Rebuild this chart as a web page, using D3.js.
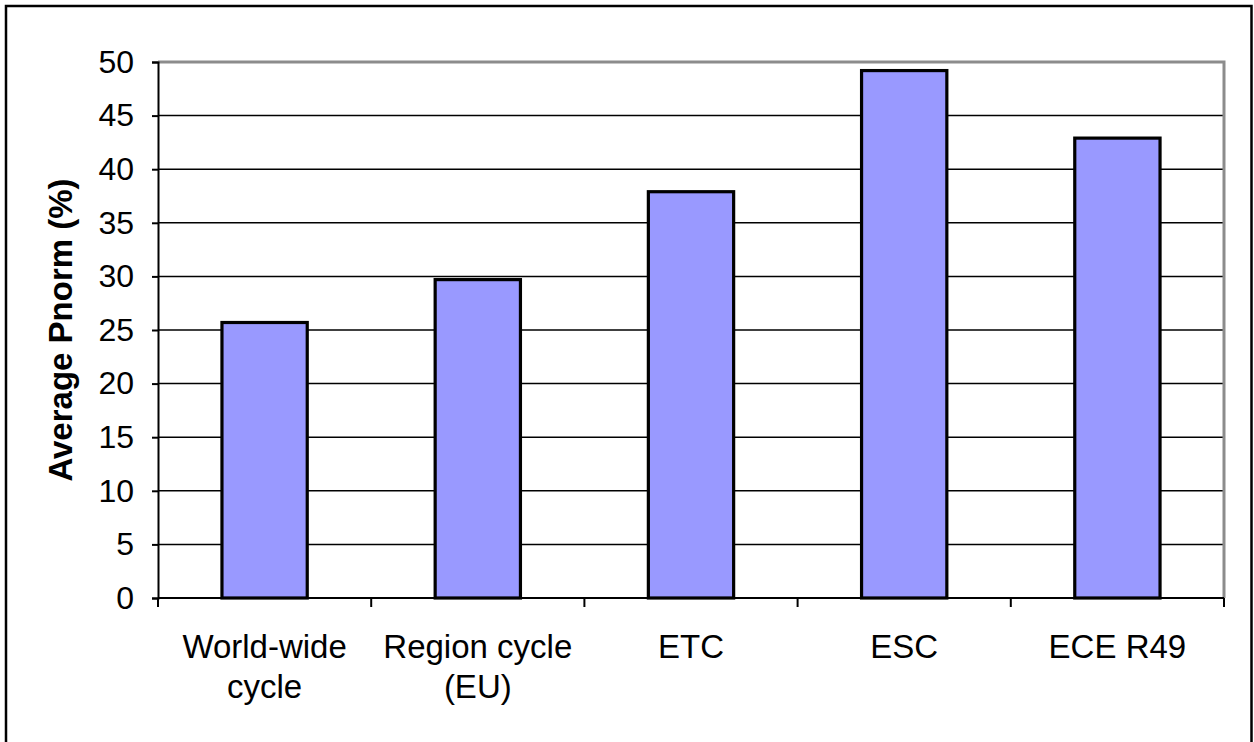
<!DOCTYPE html>
<html><head><meta charset="utf-8">
<script src="https://cdn.jsdelivr.net/npm/d3@7"></script>
<style>html,body{margin:0;padding:0;background:#fff;}svg{display:block;}</style>
</head><body>
<svg id="c" width="1254" height="742"></svg>
<script>
const categories = [["World-wide","cycle"],["Region cycle","(EU)"],["ETC"],["ESC"],["ECE R49"]];
const values = [25.7, 29.7, 37.9, 49.2, 42.9];
const yTicks = [0,5,10,15,20,25,30,35,40,45,50];
const yLabel = "Average Pnorm (%)";

const svg = d3.select("#c");
const L = 158, R = 1224, T = 62, B = 598;
const font = "Liberation Sans, Arial, sans-serif";

svg.append("rect").attr("x",6).attr("y",6).attr("width",1245.5).attr("height",740)
  .attr("fill","none").attr("stroke","#000").attr("stroke-width",2.5);

const keys = categories.map(c=>c.join(" "));
const x = d3.scaleBand().domain(keys).range([L,R]).paddingInner(0.6).paddingOuter(0.3);
const y = d3.scaleLinear().domain([0,50]).range([B,T]);

// gridlines
svg.append("g").selectAll("line").data(yTicks.filter(t=>t>0 && t<50)).join("line")
  .attr("x1",L).attr("x2",R).attr("y1",d=>y(d)).attr("y2",d=>y(d))
  .attr("stroke","#000").attr("stroke-width",1.5);

// plot border top/right gray
svg.append("path").attr("d",`M${L},${y(50)}H${R}V${B}`).attr("fill","none")
  .attr("stroke","#8c8c8c").attr("stroke-width",3);

// bars
svg.append("g").selectAll("rect").data(values).join("rect")
  .attr("x",(d,i)=>x(keys[i])).attr("width",x.bandwidth())
  .attr("y",d=>y(d)).attr("height",d=>B-y(d))
  .attr("fill","#9999FF").attr("stroke","#000").attr("stroke-width",3.2);

// y axis
const ya = svg.append("g").attr("transform",`translate(${L},0)`)
  .call(d3.axisLeft(y).tickValues(yTicks).tickSize(6).tickPadding(18));
ya.select(".domain").attr("stroke","#000").attr("stroke-width",2);
ya.selectAll(".tick line").attr("stroke","#000").attr("stroke-width",2);
ya.selectAll("text").attr("font-family",font).attr("font-size",32).attr("fill","#000");

// x axis: ticks at category boundaries
const bounds = d3.range(keys.length+1).map(i=>L + i*(R-L)/keys.length);
svg.append("line").attr("x1",L).attr("x2",R).attr("y1",B).attr("y2",B)
  .attr("stroke","#000").attr("stroke-width",2);
svg.append("g").selectAll("line").data(bounds).join("line")
  .attr("x1",d=>d).attr("x2",d=>d).attr("y1",B).attr("y2",B+9)
  .attr("stroke","#000").attr("stroke-width",2);

const lbl = svg.append("g").selectAll("text").data(categories).join("text")
  .attr("x",(d,i)=>x(keys[i])+x.bandwidth()/2).attr("y",658)
  .attr("text-anchor","middle").attr("font-family",font).attr("font-size",33).attr("fill","#000");
lbl.selectAll("tspan").data(d=>d).join("tspan")
  .attr("x",function(){return this.parentNode.getAttribute("x");})
  .attr("dy",(d,i)=>i===0?0:40).text(d=>d);

// y label
svg.append("text").attr("transform",`translate(72,${(T+B)/2}) rotate(-90)`)
  .attr("text-anchor","middle").attr("font-family",font).attr("font-weight","bold")
  .attr("font-size",33).attr("fill","#000").text(yLabel);
</script>
</body></html>
